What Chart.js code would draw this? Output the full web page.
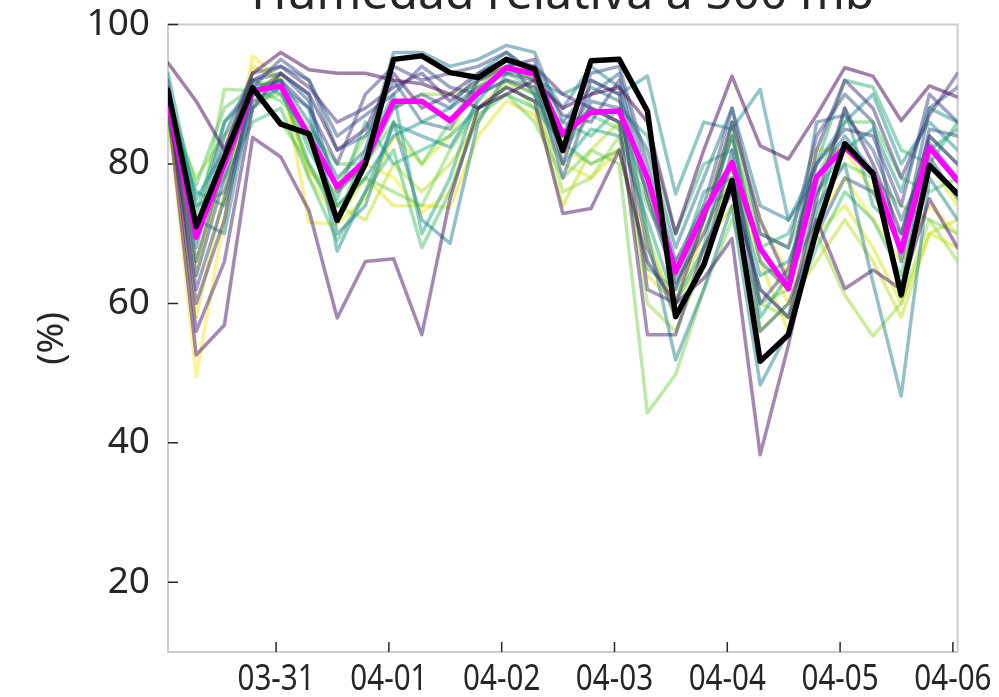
<!DOCTYPE html>
<html>
<head>
<meta charset="utf-8">
<script src="https://cdn.jsdelivr.net/npm/chart.js@4.4.0/dist/chart.umd.min.js"></script>
<style>
  html, body { margin: 0; padding: 0; background: #fff; }
  #wrap { width: 999px; height: 697px; }
</style>
</head>
<body>
<div id="wrap"><canvas id="chart" width="999" height="697"></canvas></div>
<script>
// hours since 03-31 00:00, one value every 6 h
const hours = [-23, -17, -11, -5, 1, 7, 13, 19, 25, 31, 37, 43, 49, 55, 61, 67, 73, 79, 85, 91, 97, 103, 109, 115, 121, 127, 133, 139, 145];
const tickHours = [0, 24, 48, 72, 96, 120, 144];
const tickLabels = ['03-31', '04-01', '04-02', '04-03', '04-04', '04-05', '04-06'];
const yTicks = [20, 40, 60, 80, 100];

const observed = [90.5, 71, 81, 90.9, 85.7, 84.3, 71.9, 80, 95, 95.5, 93.1, 92.4, 95, 93.6, 81.9, 94.8, 95, 87.6, 58.1, 65.5, 77.6, 51.7, 55.5, 70.5, 82.9, 78.6, 61.2, 79.8, 75.7];
const ensMean = [89, 69.5, 80, 90.5, 91.2, 84, 76.7, 80.5, 89, 89, 86.2, 90.2, 93.8, 92.9, 84.3, 87.4, 87.6, 78, 64.5, 73, 80.2, 67.9, 62.1, 78.1, 82.4, 78.6, 67.5, 82.4, 77.6];

const mem00 = [94.5, 89, 82, 93, 96, 93.5, 93, 93, 92, 91.5, 90, 88, 90, 92, 88, 90, 91, 86, 70, 82, 92.6, 82.6, 80.7, 87, 93.8, 92.6, 86.2, 91.2, 89.6];
const mem01 = [88, 52.6, 56.9, 83.8, 81, 73.3, 57.9, 66, 66.4, 55.5, 75, 88, 91, 89, 72.9, 73.6, 82, 66, 60, 63.6, 69.3, 38.3, 54, 72, 62.1, 64.8, 62, 75, 68];
const mem02 = [91, 56, 66, 88, 93, 90, 82, 85, 93, 88, 90, 93, 95, 94, 90, 88, 86, 55.5, 55.5, 68, 76, 62, 58, 75, 88, 80, 70, 84, 80];
const mem03 = [90, 60, 72, 92, 94, 91, 86, 88, 91, 93, 89, 92, 94, 95, 80, 92, 90, 62, 60, 72, 86, 72, 63, 82, 92, 88, 78, 87, 93];
const mem04 = [89, 62, 75, 90, 92, 88, 80, 90, 94, 92, 93, 94, 96, 93, 87, 86, 92, 75, 63, 70, 80, 60, 65, 80, 85, 84, 74, 90, 86];
const mem05 = [92, 64, 78, 91, 95, 92, 84, 87, 90, 94, 91, 90, 92, 91, 84, 93, 94, 80, 66, 74, 88, 70, 68, 84, 90, 86, 66, 85, 84];
const mem06 = [91, 66, 80, 92, 93, 89, 76, 80, 88, 90, 88, 91, 93, 92, 78, 89, 88, 68, 58, 66, 82, 56, 60, 70, 78, 76, 68, 88, 91];
const mem07 = [90, 68, 84, 93, 94, 92, 82, 84, 92, 86, 85, 92, 95, 90, 82, 90, 93, 78, 62, 72, 84, 66, 62, 86, 87, 82, 72, 81, 75];
const mem08 = [89, 70, 86, 91, 92, 86, 78, 82, 96, 96, 94, 95, 97, 96, 86, 91, 89, 82, 68, 78, 88, 74, 72, 78, 84, 79, 62, 83, 78];
const mem09 = [87, 72, 70, 90, 93, 90, 70, 74, 86, 72, 68.6, 86, 93, 94, 88, 94, 91, 70, 51.9, 62, 74, 48.3, 56, 74, 80, 63, 46.7, 78, 72];
const mem10 = [93, 74, 76, 89, 91, 88, 67.5, 76, 85.7, 84, 82.4, 89, 94, 92, 90, 92, 90, 92.6, 75.7, 86, 85, 90.7, 71.9, 80, 86, 90, 80, 86, 82];
const mem11 = [90, 75, 82, 92, 90, 84, 74, 78, 84, 86, 88, 93, 96, 93, 84, 88, 86, 76, 64, 76, 78, 64, 66, 76, 82, 85, 76, 88, 86];
const mem12 = [88, 76, 74, 88, 91, 80, 72, 82, 90, 70, 78, 90, 92, 90, 80, 85, 84, 72, 60, 68, 86, 58, 64, 72, 88, 74, 70, 82, 85];
const mem13 = [91, 73, 86, 90, 92, 82, 75, 86, 80, 82, 84, 88, 91, 89, 86, 84, 88, 84, 70, 80, 82, 68, 70, 80, 92, 91, 82, 80, 86];
const mem14 = [86, 72, 78, 86, 88, 78, 69, 76, 82, 68, 76, 87, 90, 88, 83, 80, 82, 65, 62, 74, 76, 62, 58, 68, 76, 72, 64, 84, 80];
const mem15 = [90, 77, 88, 91, 89, 85, 80, 80, 86, 80, 86, 92, 93, 91, 82, 87, 85, 74, 66, 72, 84, 70, 68, 78, 86, 86, 78, 76, 78];
const mem16 = [88, 70, 90.7, 90.5, 86, 80, 74, 78, 76, 74, 82, 88, 90, 86, 78, 82, 80, 44.3, 49.8, 62, 72, 60, 62, 76, 80, 78, 74, 72, 70];
const mem17 = [87, 78, 84, 89, 90, 83, 77, 84, 88, 90, 90, 91, 95, 90, 76, 78, 84, 60, 56, 66, 80, 60, 58, 70, 61.2, 55.3, 60, 72, 66];
const mem18 = [85, 66, 80, 92, 91, 79, 74, 72, 80, 76, 80, 86, 92, 88, 74, 82, 86, 70, 58, 68, 74, 56, 60, 66, 72, 66, 58, 70, 72];
const mem19 = [89, 58, 76, 94, 92, 78, 72, 78, 74, 74, 73.8, 84, 89, 87, 80, 78, 82, 64, 60, 70, 78, 66, 56, 70, 74, 68, 60, 70, 68];
const mem20 = [90, 64, 80, 90, 93, 71.6, 71.4, 75, 84, 80, 84, 92, 94, 92, 84, 88, 86, 76, 64, 72, 86, 72, 64, 82, 82, 76, 68, 80, 74];
const mem21 = [88, 49.5, 72.3, 95.5, 92, 79, 76, 80, 78, 73, 76, 88, 92, 90, 82, 80, 82, 68, 60, 72, 84, 68, 60, 72, 78, 72, 66, 74, 70];

const members = [mem00, mem01, mem02, mem03, mem04, mem05, mem06, mem07, mem08, mem09, mem10,
  mem11, mem12, mem13, mem14, mem15, mem16, mem17, mem18, mem19, mem20, mem21];

// viridis, dark to light
const viridis = ['#440154', '#471365', '#482475', '#463480', '#414487', '#3b528b', '#355f8d', '#2f6c8e',
  '#2a788e', '#25848e', '#21918c', '#1e9c89', '#22a884', '#2fb47c', '#44bf70', '#5ec962', '#7ad151',
  '#9bd93c', '#bddf26', '#dfe318', '#eee51b', '#fde725'];

function withAlpha(hex, a) {
  const n = parseInt(hex.slice(1), 16);
  return `rgba(${(n >> 16) & 255}, ${(n >> 8) & 255}, ${n & 255}, ${a})`;
}

const toPoints = vals => vals.map((v, i) => ({ x: hours[i], y: v }));

const datasets = [
  { data: toPoints(observed), borderColor: '#000000', borderWidth: 5.5 },
  { data: toPoints(ensMean), borderColor: '#ff00ff', borderWidth: 5.5 }
];
members.forEach((m, i) => {
  datasets.push({ data: toPoints(m), borderColor: withAlpha(viridis[i], 0.5), borderWidth: 3.5 });
});

const textColor = '#262626';

// frame, inward ticks, narrow date labels and the clipped title
const framePlugin = {
  id: 'frame',
  beforeDatasetsDraw(chart) {
    const { ctx, chartArea: a, scales } = chart;
    ctx.save();
    ctx.strokeStyle = '#cccccc';
    ctx.lineWidth = 2;
    ctx.strokeRect(a.left, a.top, a.right - a.left, a.bottom - a.top);
    ctx.strokeStyle = textColor;
    ctx.lineWidth = 1.5;
    ctx.beginPath();
    scales.x.ticks.forEach(t => {
      const px = scales.x.getPixelForValue(t.value);
      ctx.moveTo(px, a.bottom);
      ctx.lineTo(px, a.bottom - 10);
    });
    scales.y.ticks.forEach(t => {
      const py = scales.y.getPixelForValue(t.value);
      ctx.moveTo(a.left, py);
      ctx.lineTo(a.left + 10, py);
    });
    ctx.stroke();
    ctx.restore();
  },
  afterDraw(chart) {
    const { ctx, chartArea: a, scales } = chart;
    ctx.save();
    ctx.fillStyle = textColor;
    ctx.font = '48px "Noto Sans"';
    ctx.textAlign = 'center';
    ctx.textBaseline = 'alphabetic';
    ctx.fillText('Humedad relativa a 500 mb', (a.left + a.right) / 2, 9);

    ctx.font = '37px "Noto Sans"';
    scales.x.ticks.forEach(t => {
      const px = scales.x.getPixelForValue(t.value);
      ctx.save();
      ctx.translate(px, 690);
      ctx.scale(0.8, 1);
      ctx.fillText(tickLabels[tickHours.indexOf(t.value)], 0, 0);
      ctx.restore();
    });
    ctx.restore();
  }
};

new Chart(document.getElementById('chart'), {
  type: 'line',
  data: { datasets },
  options: {
    responsive: false,
    animation: false,
    layout: { padding: { left: 0, right: 41.4, top: 24.5, bottom: 0 } },
    elements: { point: { radius: 0 }, line: { tension: 0, borderJoinStyle: 'round', borderCapStyle: 'round' } },
    plugins: { legend: { display: false }, tooltip: { enabled: false } },
    scales: {
      x: {
        type: 'linear',
        min: -23,
        max: 145,
        afterBuildTicks: s => { s.ticks = tickHours.map(v => ({ value: v })); },
        afterFit: s => { s.height = 45; s.paddingLeft = 0; s.paddingRight = 0; },
        ticks: { display: false },
        grid: { display: false },
        border: { display: false }
      },
      y: {
        min: 10,
        max: 100,
        afterBuildTicks: s => { s.ticks = yTicks.map(v => ({ value: v })); },
        afterFit: s => { s.width = 168; s.paddingTop = 0; s.paddingBottom = 0; },
        ticks: {
          padding: 10,
          color: textColor,
          font: { family: '"Noto Sans"', size: 37 }
        },
        grid: { display: false },
        border: { display: false },
        title: {
          display: true,
          text: '(%)',
          color: textColor,
          font: { family: '"Noto Sans"', size: 37 },
          padding: { top: 30, bottom: 0 }
        }
      }
    }
  },
  plugins: [framePlugin]
});
</script>
</body>
</html>
